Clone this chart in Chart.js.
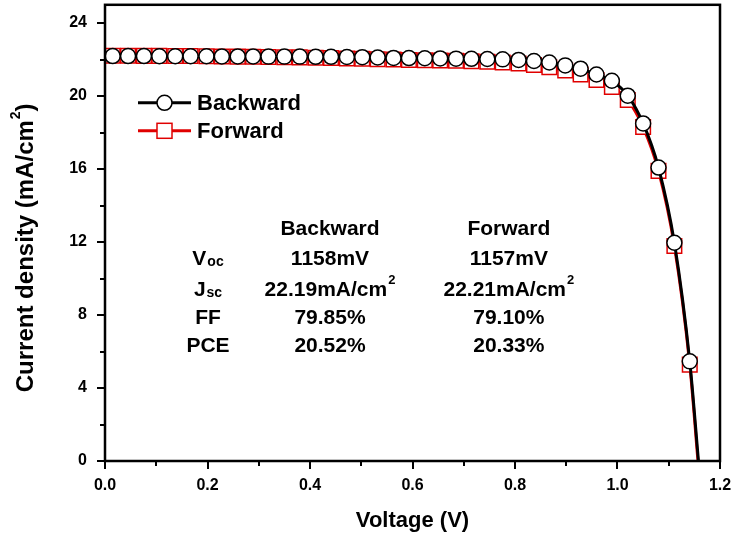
<!DOCTYPE html>
<html>
<head>
<meta charset="utf-8">
<script src="https://cdn.jsdelivr.net/npm/chart.js@4.4.1/dist/chart.umd.min.js"></script>
<style>
  html, body { margin: 0; padding: 0; background: #fff; }
  #wrap { width: 735px; height: 539px; position: relative; overflow: hidden; }
  #inner { position: absolute; left: 0; top: -7px; width: 735px; height: 546px; }
</style>
</head>
<body>
<div id="wrap"><div id="inner"><canvas id="jvChart"></canvas></div></div>
<script>
// J-V data (V in volts, J in mA/cm2)
const backwardV = [0.015, 0.045, 0.076, 0.106, 0.137, 0.167, 0.198, 0.228, 0.259, 0.289,
                   0.319, 0.350, 0.380, 0.411, 0.441, 0.472, 0.502, 0.532, 0.563, 0.593,
                   0.624, 0.654, 0.685, 0.715, 0.746, 0.776, 0.807, 0.837, 0.867, 0.898,
                   0.928, 0.959, 0.989, 1.020, 1.050, 1.080, 1.111, 1.141, 1.158];
const backwardJ = [22.19, 22.19, 22.19, 22.18, 22.18, 22.18, 22.18, 22.17, 22.17, 22.17,
                   22.16, 22.16, 22.16, 22.15, 22.15, 22.14, 22.13, 22.11, 22.09, 22.08,
                   22.07, 22.06, 22.05, 22.04, 22.03, 22.01, 21.98, 21.92, 21.84, 21.68,
                   21.50, 21.18, 20.84, 20.02, 18.50, 16.08, 11.96, 5.46, 0];
const forwardV = [0.015, 0.045, 0.076, 0.106, 0.137, 0.167, 0.198, 0.228, 0.259, 0.289,
                  0.319, 0.350, 0.380, 0.411, 0.441, 0.472, 0.502, 0.532, 0.563, 0.593,
                  0.624, 0.654, 0.685, 0.715, 0.746, 0.776, 0.807, 0.837, 0.867, 0.898,
                  0.928, 0.959, 0.989, 1.020, 1.050, 1.080, 1.111, 1.141, 1.157];
const forwardJ = [22.21, 22.21, 22.20, 22.20, 22.19, 22.19, 22.18, 22.17, 22.16, 22.15,
                  22.14, 22.13, 22.12, 22.10, 22.08, 22.06, 22.04, 22.02, 22.00, 21.98,
                  21.96, 21.95, 21.93, 21.91, 21.88, 21.84, 21.78, 21.70, 21.58, 21.40,
                  21.18, 20.88, 20.50, 19.78, 18.30, 15.90, 11.78, 5.28, 0];

const xMajor = [0.0, 0.2, 0.4, 0.6, 0.8, 1.0, 1.2];
const yMajor = [0, 4, 8, 12, 16, 20, 24];

// parameter table ('^' marks a superscript 2)
const paramNames = [['V', 'oc'], ['J', 'sc'], ['FF', ''], ['PCE', '']];
const backwardParams = ['1158mV', '22.19mA/cm^', '79.85%', '20.52%'];
const forwardParams = ['1157mV', '22.21mA/cm^', '79.10%', '20.33%'];
const seriesNames = ['Backward', 'Forward'];

const FONT = '"Liberation Sans", Arial, sans-serif';

function isMajor(v, list) {
  return list.some(m => Math.abs(m - v) < 1e-6);
}

// draws text centred on cx, with '^' turned into a small raised "2"
function richText(ctx, str, cx, baseY, size) {
  const parts = str.split('^');
  const big = 'bold ' + size + 'px ' + FONT;
  const small = 'bold ' + Math.round(size * 0.6) + 'px ' + FONT;
  ctx.font = big;
  const w1 = ctx.measureText(parts[0]).width;
  let w2 = 0;
  if (parts.length > 1) { ctx.font = small; w2 = ctx.measureText('2').width + 1; }
  const sx = cx - (w1 + w2) / 2;
  ctx.textAlign = 'left';
  ctx.font = big;
  ctx.fillText(parts[0], sx, baseY);
  if (parts.length > 1) {
    ctx.font = small;
    ctx.fillText('2', sx + w1 + 1, baseY - size * 0.55);
    ctx.font = big;
    if (parts[1]) ctx.fillText(parts[1], sx + w1 + w2, baseY);
  }
}

const decor = {
  id: 'decor',
  afterDatasetsDraw(chart) {
    const { ctx, chartArea: a, scales: { x, y } } = chart;
    ctx.save();
    ctx.strokeStyle = '#000';
    ctx.fillStyle = '#000';

    // frame
    ctx.lineWidth = 2.5;
    ctx.strokeRect(a.left, a.top, a.right - a.left, a.bottom - a.top);

    // ticks, outward
    ctx.lineWidth = 2;
    ctx.beginPath();
    x.ticks.forEach(t => {
      const px = Math.round(x.getPixelForValue(t.value));
      const len = isMajor(t.value, xMajor) ? 8 : 5;
      ctx.moveTo(px, a.bottom);
      ctx.lineTo(px, a.bottom + len);
    });
    y.ticks.forEach(t => {
      const py = Math.round(y.getPixelForValue(t.value));
      const len = isMajor(t.value, yMajor) ? 8 : 5;
      ctx.moveTo(a.left, py);
      ctx.lineTo(a.left - len, py);
    });
    ctx.stroke();

    // axis titles
    ctx.textBaseline = 'alphabetic';
    richText(ctx, 'Voltage (V)', (a.left + a.right) / 2, a.bottom + 66, 22);
    ctx.save();
    ctx.translate(33, a.top + 247);
    ctx.rotate(-Math.PI / 2);
    richText(ctx, 'Current density (mA/cm^)', 0, 0, 24);
    ctx.restore();

    // legend
    const lx0 = a.left + 33, lx1 = a.left + 86, lxm = (lx0 + lx1) / 2;
    const ly = [a.top + 98, a.top + 126];
    ctx.lineWidth = 3;
    ctx.strokeStyle = '#000';
    ctx.beginPath(); ctx.moveTo(lx0, ly[0]); ctx.lineTo(lx1, ly[0]); ctx.stroke();
    ctx.fillStyle = '#fff';
    ctx.lineWidth = 1.5;
    ctx.beginPath(); ctx.arc(lxm, ly[0], 7.5, 0, Math.PI * 2); ctx.fill(); ctx.stroke();
    ctx.strokeStyle = '#e00000';
    ctx.lineWidth = 3;
    ctx.beginPath(); ctx.moveTo(lx0, ly[1]); ctx.lineTo(lx1, ly[1]); ctx.stroke();
    ctx.lineWidth = 1.5;
    ctx.fillRect(lxm - 7.5, ly[1] - 7.5, 15, 15);
    ctx.strokeRect(lxm - 7.5, ly[1] - 7.5, 15, 15);
    ctx.fillStyle = '#000';
    ctx.font = 'bold 22px ' + FONT;
    ctx.textAlign = 'left';
    ctx.textBaseline = 'middle';
    seriesNames.forEach((n, i) => ctx.fillText(n, lx1 + 6, ly[i] + 1));

    // parameter table, placed in data units
    const colX = [0.201, 0.439, 0.788].map(v => x.getPixelForValue(v));
    const rowY = [12.78, 11.14, 9.47, 7.91, 6.36].map(v => y.getPixelForValue(v) + 7.5);
    ctx.textBaseline = 'alphabetic';
    richText(ctx, seriesNames[0], colX[1], rowY[0], 21);
    richText(ctx, seriesNames[1], colX[2], rowY[0], 21);
    paramNames.forEach((p, i) => {
      const yy = rowY[i + 1];
      ctx.textAlign = 'left';
      ctx.font = 'bold 21px ' + FONT;
      const w1 = ctx.measureText(p[0]).width;
      ctx.font = 'bold 14px ' + FONT;
      const w2 = p[1] ? ctx.measureText(p[1]).width + 1 : 0;
      const sx = colX[0] - (w1 + w2) / 2;
      ctx.font = 'bold 21px ' + FONT;
      ctx.fillText(p[0], sx, yy);
      if (p[1]) {
        ctx.font = 'bold 14px ' + FONT;
        ctx.fillText(p[1], sx + w1 + 1, yy + 1);
      }
      richText(ctx, backwardParams[i], colX[1], yy, 21);
      richText(ctx, forwardParams[i], colX[2], yy, 21);
    });
    ctx.restore();
  }
};

const tickFont = { family: FONT, size: 16, weight: 'bold' };

function noPadding(s) {
  s.paddingTop = 0; s.paddingBottom = 0; s.paddingLeft = 0; s.paddingRight = 0;
}

new Chart(document.getElementById('jvChart'), {
  type: 'scatter',
  data: {
    datasets: [{
      label: 'Backward',
      data: backwardV.map((v, i) => ({ x: v, y: backwardJ[i] })),
      showLine: true,
      borderColor: '#000',
      borderWidth: 3,
      cubicInterpolationMode: 'monotone',
      pointStyle: 'circle',
      pointRadius: c => (c.raw && c.raw.y > 0 ? 7.5 : 0),
      pointBorderWidth: 1.5,
      pointBorderColor: '#000',
      pointBackgroundColor: '#fff'
    }, {
      label: 'Forward',
      data: forwardV.map((v, i) => ({ x: v, y: forwardJ[i] })),
      showLine: true,
      borderColor: '#e00000',
      borderWidth: 3,
      cubicInterpolationMode: 'monotone',
      pointStyle: 'rect',
      pointRadius: c => (c.raw && c.raw.y > 0 ? 10.3 : 0),
      pointBorderWidth: 1.5,
      pointBorderColor: '#e00000',
      pointBackgroundColor: '#fff'
    }]
  },
  options: {
    responsive: true,
    maintainAspectRatio: false,
    animation: false,
    layout: { padding: { top: 0, right: 15, left: 0, bottom: 0 } },
    plugins: { legend: { display: false }, tooltip: { enabled: false } },
    scales: {
      x: {
        type: 'linear',
        min: 0,
        max: 1.2,
        grid: { display: false, drawTicks: false },
        border: { display: false },
        ticks: {
          stepSize: 0.1,
          autoSkip: false,
          maxRotation: 0,
          padding: 15,
          color: '#000',
          font: tickFont,
          callback: v => (isMajor(v, xMajor) ? v.toFixed(1) : '')
        },
        afterFit(s) { s.height = 78; noPadding(s); }
      },
      y: {
        min: 0,
        max: 25,
        grid: { display: false, drawTicks: false },
        border: { display: false },
        ticks: {
          stepSize: 2,
          includeBounds: false,
          autoSkip: false,
          padding: 18,
          color: '#000',
          font: tickFont,
          callback: v => (isMajor(v, yMajor) ? String(v) : '')
        },
        afterFit(s) { s.width = 105; noPadding(s); }
      }
    }
  },
  plugins: [decor]
});
</script>
</body>
</html>
